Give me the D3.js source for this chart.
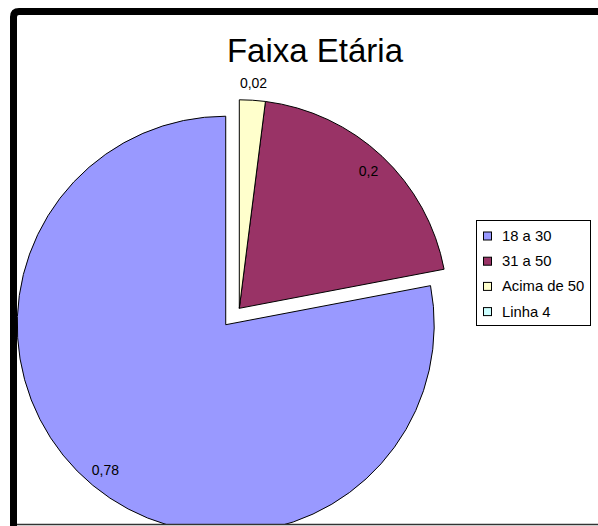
<!DOCTYPE html>
<html>
<head>
<meta charset="utf-8">
<script src="https://cdn.jsdelivr.net/npm/d3@7/dist/d3.min.js"></script>
<style>
  html, body { margin: 0; padding: 0; background: #fff; }
  svg { display: block; }
  text { font-family: "Liberation Sans", Arial, sans-serif; fill: #000; }
</style>
</head>
<body>
<svg id="chart" width="598" height="526"></svg>
<script>
// ---- data ----
const title = "Faixa Etária";
const categories = ["18 a 30", "31 a 50", "Acima de 50", "Linha 4"];
const values = [0.78, 0.2, 0.02, 0];
const valueLabels = ["0,78", "0,2", "0,02", ""];
const colors = ["#9999FF", "#993366", "#FFFFCC", "#CCFFFF"];

// ---- layout ----
const W = 598, H = 526;
const cx = 239.3, cy = 308.3, R = 208.5;
const explodeIdx = 0, explodeDist = 21.3;

const svg = d3.select("#chart");
svg.append("rect").attr("width", W).attr("height", H).attr("fill", "#fff");

svg.append("defs").append("clipPath").attr("id", "plotClip")
  .append("rect").attr("x", 17).attr("y", 15).attr("width", W).attr("height", 524 - 15);

const pie = d3.pie().sort(null).startAngle(0).endAngle(-2 * Math.PI).value(d => d);
const arcs = pie(values);
const arc = d3.arc().innerRadius(0).outerRadius(R);

const g = svg.append("g").attr("clip-path", "url(#plotClip)")
  .append("g").attr("transform", `translate(${cx},${cy})`);

function offset(a, i) {
  if (i !== explodeIdx) return [0, 0];
  const mid = (a.startAngle + a.endAngle) / 2;
  return [Math.sin(mid) * explodeDist, -Math.cos(mid) * explodeDist];
}

g.selectAll("path.slice").data(arcs).enter()
  .filter(d => d.value > 0)
  .append("path")
  .attr("class", "slice")
  .attr("d", arc)
  .attr("transform", (d) => { const i = arcs.indexOf(d); const o = offset(d, i); return `translate(${o[0]},${o[1]})`; })
  .attr("fill", (d) => colors[arcs.indexOf(d)])
  .attr("stroke", "#000")
  .attr("stroke-width", 1)
  .attr("stroke-linejoin", "round");

// data labels
arcs.forEach((a, i) => {
  if (!(a.value > 0)) return;
  const mid = (a.startAngle + a.endAngle) / 2;
  const o = offset(a, i);
  const lr = a.value < 0.05 ? R * 1.085 : R * 0.905;
  const x = Math.sin(mid) * lr + o[0];
  const y = -Math.cos(mid) * lr + o[1];
  g.append("text")
    .attr("x", x).attr("y", y)
    .attr("text-anchor", "middle")
    .attr("dominant-baseline", "central")
    .attr("font-size", "14px")
    .text(valueLabels[i]);
});

// bottom white area & frame
svg.append("rect").attr("x", 0).attr("y", 524).attr("width", W).attr("height", 2).attr("fill", "#fff");
svg.append("line").attr("x1", 17).attr("x2", W).attr("y1", 524.5).attr("y2", 524.5)
  .attr("stroke", "#333").attr("stroke-width", 1.3);
svg.append("path")
  .attr("d", `M13.5,${H + 5} V17 Q13.5,11.5 19,11.5 H${W + 5}`)
  .attr("fill", "none").attr("stroke", "#000").attr("stroke-width", 7);

// title
svg.append("text")
  .attr("x", 315).attr("y", 62.3)
  .attr("text-anchor", "middle")
  .attr("font-size", "33px")
  .text(title);

// legend
const lg = svg.append("g").attr("transform", "translate(476,220)");
lg.append("rect").attr("x", 0.5).attr("y", 0.5).attr("width", 114).attr("height", 105)
  .attr("fill", "#fff").attr("stroke", "#000").attr("stroke-width", 1);
categories.forEach((c, i) => {
  const y = 16 + i * 25.2;
  lg.append("rect").attr("x", 7.5).attr("y", y - 4).attr("width", 8).attr("height", 8)
    .attr("fill", colors[i]).attr("stroke", "#000").attr("stroke-width", 1);
  lg.append("text").attr("x", 26).attr("y", y).attr("dominant-baseline", "central")
    .attr("font-size", "14.8px").text(c);
});
</script>
</body>
</html>
